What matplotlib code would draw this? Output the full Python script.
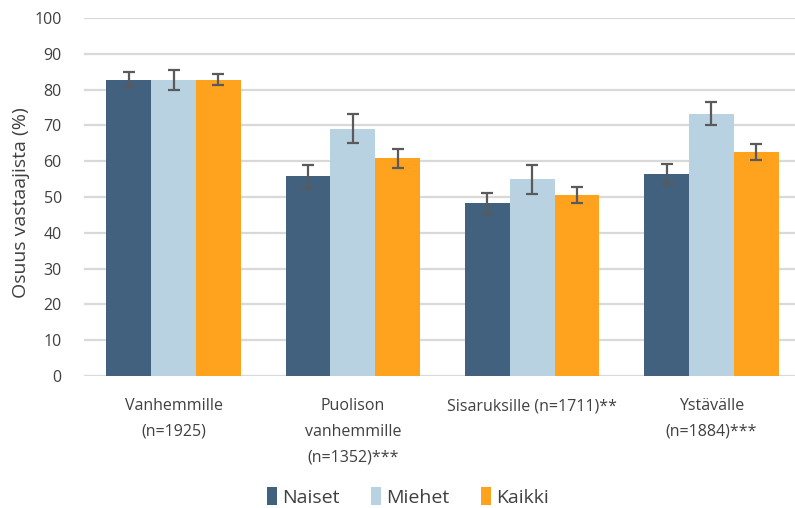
import matplotlib
matplotlib.use("Agg")
import matplotlib.pyplot as plt
import numpy as np

categories = ["Vanhemmille\n(n=1925)", "Puolison\nvanhemmille\n(n=1352)***",
              "Sisaruksille (n=1711)**", "Ystävälle\n(n=1884)***"]
series_names = ["Naiset", "Miehet", "Kaikki"]
naiset = [82.8, 55.8, 48.2, 56.4]
miehet = [82.8, 69.1, 54.9, 73.3]
kaikki = [82.8, 60.8, 50.5, 62.5]
naiset_err = [2.2, 3.2, 2.9, 2.8]
miehet_err = [2.8, 4.0, 4.1, 3.3]
kaikki_err = [1.5, 2.6, 2.3, 2.2]
yticks = [0, 10, 20, 30, 40, 50, 60, 70, 80, 90, 100]
colors = ["#41617F", "#B8D2E2", "#FFA31F"]

plt.rcParams['font.family'] = ['Open Sans', 'DejaVu Sans']

fig = plt.figure(figsize=(7.95, 5.08), dpi=100)
ax = fig.add_axes([84/795, 132/508, 717/795, 358/508])

x = np.arange(len(categories))
w = 0.25
values = [naiset, miehet, kaikki]
errs = [naiset_err, miehet_err, kaikki_err]
for i, (v, e) in enumerate(zip(values, errs)):
    ax.bar(x + (i - 1) * w, v, width=w, color=colors[i], label=series_names[i],
           zorder=3, yerr=e, error_kw=dict(ecolor="#5A5A5A", elinewidth=1.6,
                                             capsize=4, capthick=1.6, zorder=4))

ax.set_xlim(-0.5, 3.5)
ax.set_ylim(0, 100)
ax.set_yticks(yticks)
ax.set_yticklabels([str(t) for t in yticks], fontsize=11.5, color="#404040")
ax.yaxis.grid(True, color="#D9D9D9", linewidth=1.6, zorder=0)
ax.set_axisbelow(True)
ax.tick_params(axis='y', length=0, pad=16)
ax.tick_params(axis='x', length=0, pad=16)
ax.set_xticks(x)
ax.set_xticklabels(categories, fontsize=11.5, color="#404040", linespacing=1.8, va='top')
for s in ax.spines.values():
    s.set_visible(False)
ax.set_ylabel("Osuus vastaajista (%)", fontsize=14, color="#404040")
ax.yaxis.set_label_coords(-0.076, 0.485)

leg = fig.legend(loc="center", bbox_to_anchor=(408/795, 1 - 497/508), ncol=3,
                 frameon=False, fontsize=14, handlelength=0.5, handleheight=1.0,
                 handletextpad=0.3, columnspacing=1.6)
for t in leg.get_texts():
    t.set_color("#404040")

fig.savefig("out.png", dpi=100)
